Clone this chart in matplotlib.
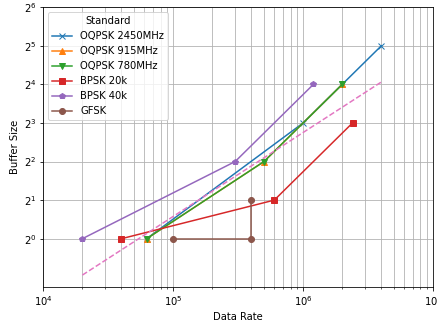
import matplotlib
matplotlib.use("Agg")
import matplotlib.pyplot as plt

# dados
oqpsk_2450_x = [62500, 1000000, 2000000, 4000000]
oqpsk_2450_y = [1, 8, 16, 32]
oqpsk_915_x = [62500, 500000, 2000000]
oqpsk_915_y = [1, 4, 16]
oqpsk_780_x = [62500, 500000, 2000000]
oqpsk_780_y = [1, 4, 16]
bpsk20_x = [40000, 600000, 2400000]
bpsk20_y = [1, 2, 8]
bpsk40_x = [20000, 300000, 1200000]
bpsk40_y = [1, 4, 16]
gfsk_x = [100000, 400000, 400000]
gfsk_y = [1, 1, 2]
ajuste_x = [20000, 4000000]
ajuste_y = [0.52, 16.7]
y_ticks = [1, 2, 4, 8, 16, 32, 64]


def grafico():
    dpi = 72
    fig, ax = plt.subplots(figsize=(437 / dpi, 327 / dpi), dpi=dpi)
    fig.subplots_adjust(left=0.099, right=0.991, top=0.978, bottom=0.122)

    ax.plot(oqpsk_2450_x, oqpsk_2450_y, marker="x", color="tab:blue", label="OQPSK 2450MHz")
    ax.plot(oqpsk_915_x, oqpsk_915_y, marker="^", color="tab:orange", label="OQPSK 915MHz")
    ax.plot(oqpsk_780_x, oqpsk_780_y, marker="v", color="tab:green", label="OQPSK 780MHz")
    ax.plot(bpsk20_x, bpsk20_y, marker="s", color="tab:red", label="BPSK 20k")
    ax.plot(bpsk40_x, bpsk40_y, marker="p", color="tab:purple", label="BPSK 40k")
    ax.plot(gfsk_x, gfsk_y, marker="o", color="tab:brown", label="GFSK")
    ax.plot(ajuste_x, ajuste_y, "--", color="tab:pink")

    ax.set_xscale("log")
    ax.set_yscale("log", base=2)
    ax.set_xlim(1e4, 1e7)
    ax.set_ylim(2 ** -1.255, 2 ** 6)
    ax.set_yticks(y_ticks)
    ax.grid(True, which="both")
    ax.set_xlabel("Data Rate")
    ax.set_ylabel("Buffer Size")
    ax.legend(title="Standard", loc="upper left")

    fig.savefig("out.png", dpi=dpi)


if __name__ == "__main__":
    grafico()
